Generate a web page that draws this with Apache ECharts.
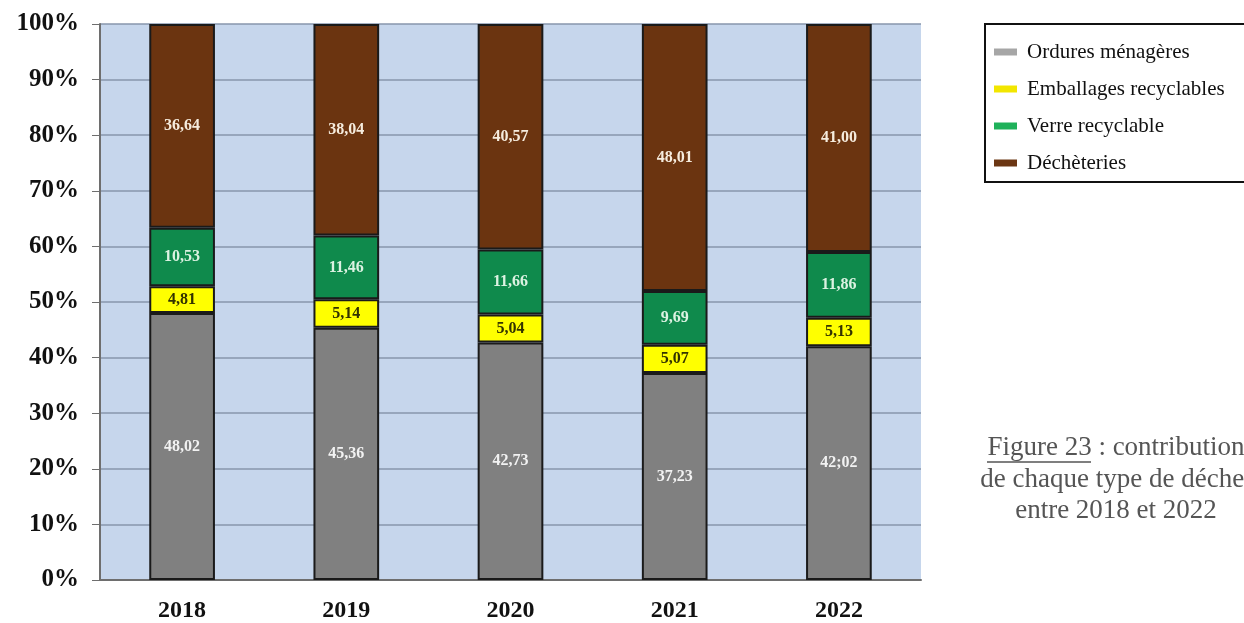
<!DOCTYPE html>
<html>
<head>
<meta charset="utf-8">
<script src="https://cdn.jsdelivr.net/npm/echarts@6/dist/echarts.min.js"></script>
<style>
  html, body { margin: 0; padding: 0; background: #fff; }
  #main { width: 1244px; height: 623px; }
</style>
</head>
<body>
<div id="main"></div>
<script>
// données (en %)
var annees = ['2018', '2019', '2020', '2021', '2022'];
var ordures = [48.02, 45.36, 42.73, 37.23, 42.02];
var emballages = [4.81, 5.14, 5.04, 5.07, 5.13];
var verre = [10.53, 11.46, 11.66, 9.69, 11.86];
var decheteries = [36.64, 38.04, 40.57, 48.01, 41.00];
// l'étiquette 2022 des ordures porte "42;02" sur l'original
var etiquettesOrdures = ['48,02', '45,36', '42,73', '37,23', '42;02'];
var ticksY = [0, 10, 20, 30, 40, 50, 60, 70, 80, 90, 100];
var legende = ['Ordures ménagères', 'Emballages recyclables', 'Verre recyclable', 'Déchèteries'];

var chart = echarts.init(document.getElementById('main'));
var serif = '"Liberation Serif", "DejaVu Serif", serif';

function fmt(v) {
    return v.toFixed(2).replace('.', ',');
}

function serie(nom, data, couleur, couleurTexte, textes) {
    return {
        name: nom,
        type: 'bar',
        stack: 'total',
        barWidth: '40%',
        data: data,
        itemStyle: {
            color: couleur,
            borderColor: '#1a1a1a',
            borderWidth: 2
        },
        label: {
            show: true,
            position: 'inside',
            color: couleurTexte,
            fontFamily: serif,
            fontWeight: 'bold',
            fontSize: 16,
            formatter: function (p) {
                return textes ? textes[p.dataIndex] : fmt(p.value);
            }
        }
    };
}

var couleursLegende = ['#a6a6a6', '#f2e600', '#1fb15a', '#6b3613'];

// légende de la figure, à droite
function texteFigure(txt, y) {
    return {
        type: 'text',
        x: 1116,
        y: y,
        style: {
            text: txt,
            fontFamily: serif,
            fontSize: 27,
            fill: '#555',
            align: 'center',
            verticalAlign: 'middle'
        }
    };
}

var option = {
    backgroundColor: '#ffffff',
    animation: false,
    grid: {
        left: 100,
        right: 323,
        top: 24,
        bottom: 43,
        show: true,
        backgroundColor: '#c6d6ec',
        borderWidth: 0
    },
    legend: {
        orient: 'vertical',
        left: 985,
        top: 24,
        data: legende.map(function (n, i) {
            return { name: n, itemStyle: { color: couleursLegende[i], borderWidth: 0 } };
        }),
        icon: 'rect',
        itemWidth: 23,
        itemHeight: 7,
        itemGap: 15,
        padding: [17, 40, 8, 9],
        borderColor: '#111',
        borderWidth: 2,
        textStyle: {
            fontFamily: serif,
            fontSize: 21,
            lineHeight: 22,
            color: '#111',
            padding: [0, 0, 0, 5]
        }
    },
    xAxis: {
        type: 'category',
        data: annees,
        axisLine: { lineStyle: { color: '#6e6e6e', width: 2 } },
        axisTick: { show: false },
        axisLabel: {
            fontFamily: serif,
            fontWeight: 'bold',
            fontSize: 24,
            color: '#111',
            margin: 19
        }
    },
    yAxis: {
        type: 'value',
        min: 0,
        max: 100,
        interval: 10,
        axisLine: { show: true, lineStyle: { color: '#6e6e6e', width: 2 } },
        axisTick: { show: true, length: 8, lineStyle: { color: '#6e6e6e' } },
        splitLine: { lineStyle: { color: '#8796ad', width: 1.5 } },
        axisLabel: {
            fontFamily: serif,
            fontWeight: 'bold',
            fontSize: 25,
            color: '#111',
            margin: 21,
            customValues: ticksY,
            formatter: '{value}%'
        }
    },
    series: [
        serie(legende[0], ordures, '#808080', '#f2f2f2', etiquettesOrdures),
        serie(legende[1], emballages, '#ffff00', '#333300'),
        serie(legende[2], verre, '#0f8a4c', '#dcf2e2'),
        serie(legende[3], decheteries, '#6b3410', '#f6ecde')
    ],
    graphic: [
        texteFigure('Figure 23 : contribution', 448),
        {
            type: 'line',
            shape: { x1: 987, y1: 462, x2: 1091, y2: 462 },
            style: { stroke: '#555', lineWidth: 1.5 }
        },
        texteFigure('de chaque type de déchet', 480),
        texteFigure('entre 2018 et 2022', 511)
    ]
};

chart.setOption(option);
</script>
</body>
</html>
